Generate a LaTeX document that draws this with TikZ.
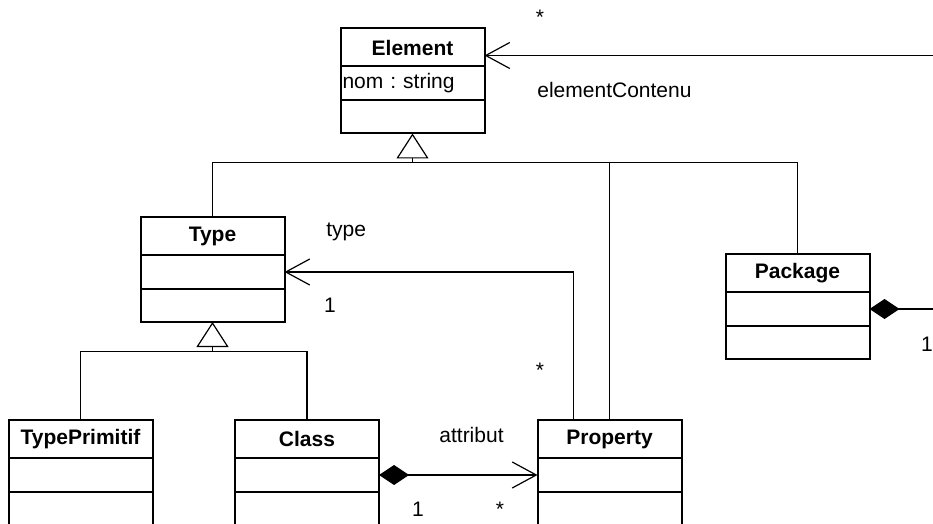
\documentclass[tikz,border=0pt]{standalone}
\usepackage{fontspec}
\setmainfont{Liberation Sans}
\usetikzlibrary{arrows.meta,positioning}
\frenchspacing
\newcommand{\umlfont}{\fontsize{10.5}{12.6}\selectfont}
\newcommand{\umlclass}[4]{%
  \node[clsname] (#1) at (#2) {#3};
  \node[clsattr, below=0pt of #1] (#1-a) {#4};
  \node[clsops, below=0pt of #1-a] (#1-o) {};
}
\tikzset{
  clsname/.style={draw, line width=1pt, minimum width=72pt, minimum height=19pt,
    inner sep=0pt, outer sep=0pt, font=\umlfont\bfseries},
  clsattr/.style={draw, line width=1pt, minimum width=72pt, minimum height=17pt,
    text width=70pt, inner xsep=1pt, inner ysep=0pt, outer sep=0pt, align=left},
  clsops/.style={draw, line width=1pt, minimum width=72pt, minimum height=16.5pt,
    inner sep=0pt, outer sep=0pt},
  conn/.style={line width=0.6pt},
  gen/.style={conn, -{Triangle[open,length=12.5pt,width=16pt]}},
  assoc/.style={conn, -{Straight Barb[length=12pt,width=13pt]}},
  diam/.style={conn, {Diamond[length=15pt,width=10pt]}-},
  comp/.style={conn, {Diamond[length=15pt,width=10pt]}-{Straight Barb[length=12pt,width=13pt]}},
  lbl/.style={anchor=base, inner sep=0pt}
}
\begin{document}
\begin{tikzpicture}[x=0.5pt,y=-0.5pt,every node/.style={font=\umlfont}]
\useasboundingbox (0,0) rectangle (933,524);
\clip (0,0) rectangle (933,524);
% classes
\umlclass{elem}{412.5,47.5}{Element}{nom : string}
\umlclass{type}{212.5,236}{Type}{}
\umlclass{pkg}{797.5,273}{Package}{}
\umlclass{prim}{80.5,439}{TypePrimitif}{}
\umlclass{class}{307,439}{Class}{}
\umlclass{prop}{609.5,439}{Property}{}
% generalisations
\coordinate (genE) at (412.5,162.5);
\coordinate (genT) at (212.5,351.5);
\draw[gen] (genE) -- (elem-o.south);
\draw[conn] (type.north) |- (genE) -| (pkg.north);
\draw[conn] (prop.north) -- (prop.north |- genE);
\draw[gen] (genT) -- (type-o.south);
\draw[conn] (prim.north) |- (genT) -| (class.north);
% elementContenu
\coordinate (contR) at (945,55.5);
\draw[assoc] (contR) -- (contR -| elem.east);
\node[lbl] (contStar) at (540,25) {*};
\node[lbl, anchor=base west] (contName) at (537,98) {elementContenu};
\coordinate (pkgR) at (945,309);
\draw[diam] (pkg-a.east) -- (pkg-a.east -| pkgR);
\node[lbl] (pkgOne) at (927,351) {1};
% type
\draw[assoc] ([xshift=18pt]prop.north west) |- (type-a.east);
\node[lbl, anchor=base west] (typeName) at (326,237) {type};
\node[lbl] (typeOne) at (330,313) {1};
\node[lbl] (typeStar) at (540,377) {*};
% attribut
\draw[comp] (class-a.east) -- (prop-a.west);
\node[lbl, anchor=base west] (attrName) at (439,442) {attribut};
\node[lbl] (attrOne) at (418,516) {1};
\node[lbl] (attrStar) at (500,516) {*};
\end{tikzpicture}
\end{document}
